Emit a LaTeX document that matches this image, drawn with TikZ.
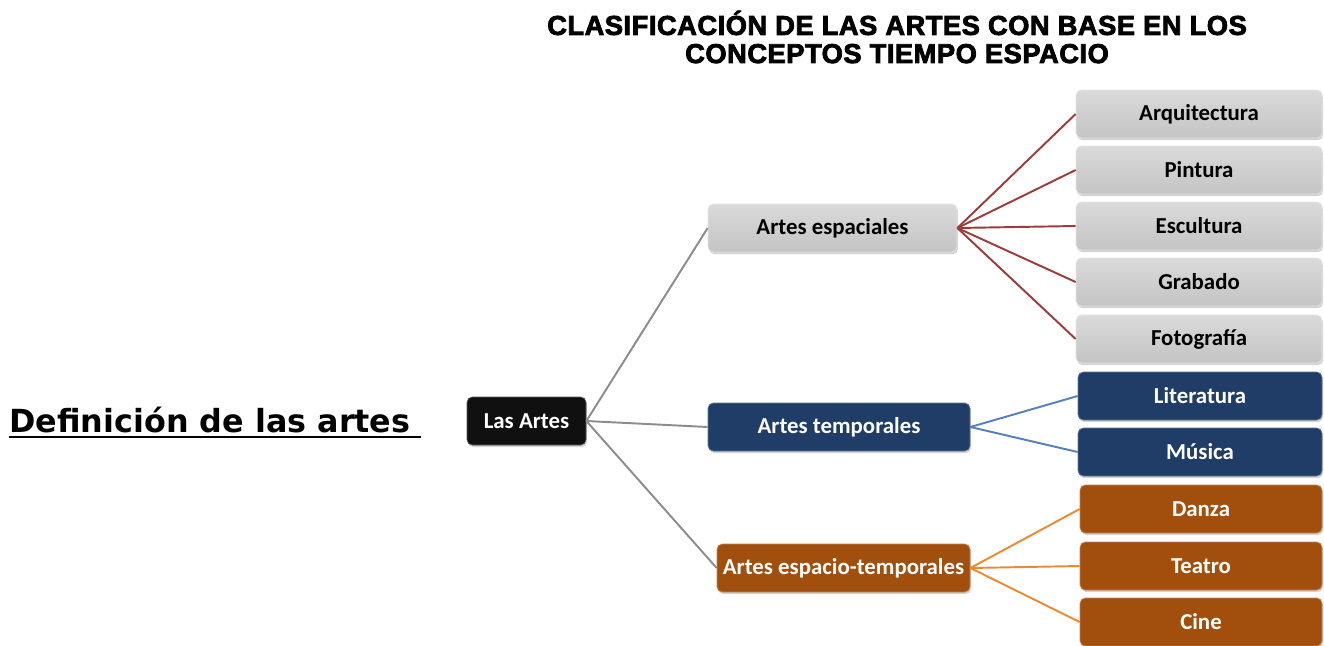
\documentclass[tikz,border=0pt]{standalone}
\usepackage{fontspec}
\setmainfont{Carlito}
\newfontfamily\titlefont[LetterSpace=2.0, BoldFeatures={FakeBold=3}]{Liberation Sans}
\newfontfamily\deffont{DejaVu Sans}
\usepackage{tikz}
\usepackage{xcolor}
\usetikzlibrary{
    shadows
}
\definecolor{boxtop}{HTML}{DADADA}
\definecolor{boxbottom}{HTML}{C4C4C4}
\definecolor{artblue}{HTML}{1F3D66}
\definecolor{artorange}{HTML}{A24F0E}
\definecolor{artblack}{HTML}{101010}
\definecolor{linegray}{HTML}{8C8C8C}
\definecolor{linered}{HTML}{9B3B3A}
\definecolor{lineblue}{HTML}{5580BA}
\definecolor{lineorange}{HTML}{EB8A33}

\begin{document}
\begin{tikzpicture}[
    box/.style={rounded corners=3pt, minimum height=0.96cm, inner sep=0pt,
        font=\fontsize{13}{15}\selectfont\bfseries,
        drop shadow={shadow xshift=0.6pt, shadow yshift=-1.2pt, opacity=0.35}},
    graybox/.style={box, draw=white!80!gray, top color=boxtop, bottom color=boxbottom, text=black},
    bluebox/.style={box, draw=artblue!70!white, fill=artblue, text=white},
    orangebox/.style={box, draw=artorange!70!white, fill=artorange, text=white},
    darkbox/.style={box, draw=artblack!70!white, fill=artblack, text=white},
    link/.style={line width=1.1pt}
]
            \useasboundingbox (0,0) rectangle (26.48,-12.9);

            \node[font=\titlefont\bfseries\fontsize{15.5}{16}\selectfont, align=center] (title) at (17.94,-0.74)
                {CLASIFICACIÓN DE LAS ARTES CON BASE EN LOS\\CONCEPTOS TIEMPO ESPACIO};

            \node[font=\deffont\bfseries\fontsize{18.1}{21}\selectfont, inner sep=0pt, anchor=base west] (deftitle) at (0.18,-8.64) {Definición de las artes};
            \draw[line width=1.6pt] ([yshift=-2.8pt]deftitle.base west) -- ([xshift=0.2cm, yshift=-2.8pt]deftitle.base east);

            \node[darkbox, minimum width=2.38cm] (lasartes) at (10.53,-8.42) {Las Artes};

            \node[graybox, minimum width=4.98cm]   (espaciales)  at (16.65,-4.56)  {Artes espaciales};
            \node[bluebox, minimum width=5.24cm]   (temporales)  at (16.78,-8.54)  {Artes temporales};
            \node[orangebox, minimum width=5.06cm] (espaciotemp) at (16.87,-11.36) {Artes espacio-temporales};

            \node[graybox, minimum width=4.92cm] (arquitectura) at (23.98,-2.28) {Arquitectura};
            \node[graybox, minimum width=4.92cm] (pintura)      at (23.98,-3.40) {Pintura};
            \node[graybox, minimum width=4.92cm] (escultura)    at (23.98,-4.52) {Escultura};
            \node[graybox, minimum width=4.92cm] (grabado)      at (23.98,-5.64) {Grabado};
            \node[graybox, minimum width=4.92cm] (fotografia)   at (23.98,-6.78) {Fotografía};

            \node[bluebox, minimum width=4.88cm] (literatura) at (24.00,-7.92) {Literatura};
            \node[bluebox, minimum width=4.88cm] (musica)     at (24.00,-9.04) {Música};

            \node[orangebox, minimum width=4.84cm] (danza)  at (24.02,-10.18) {Danza};
            \node[orangebox, minimum width=4.84cm] (teatro) at (24.02,-11.32) {Teatro};
            \node[orangebox, minimum width=4.84cm] (cine)   at (24.02,-12.44) {Cine};

            % from the root
            \draw[link, linegray] (lasartes.east)--(espaciales.west);
            \draw[link, linegray] (lasartes.east)--(temporales.west);
            \draw[link, linegray] (lasartes.east)--(espaciotemp.west);

            % spatial arts
            \draw[link, linered] (espaciales.east)--(arquitectura.west);
            \draw[link, linered] (espaciales.east)--(pintura.west);
            \draw[link, linered] (espaciales.east)--(escultura.west);
            \draw[link, linered] (espaciales.east)--(grabado.west);
            \draw[link, linered] (espaciales.east)--(fotografia.west);

            % temporal arts
            \draw[link, lineblue] (temporales.east)--(literatura.west);
            \draw[link, lineblue] (temporales.east)--(musica.west);

            % spatio-temporal arts
            \draw[link, lineorange] (espaciotemp.east)--(danza.west);
            \draw[link, lineorange] (espaciotemp.east)--(teatro.west);
            \draw[link, lineorange] (espaciotemp.east)--(cine.west);
\end{tikzpicture}
\end{document}
